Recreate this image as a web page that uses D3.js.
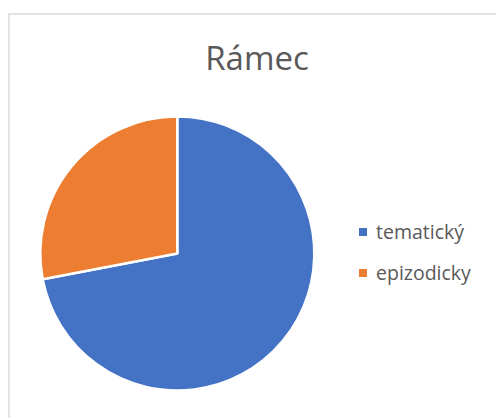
<!DOCTYPE html>
<html><head><meta charset="utf-8">
<script src="https://cdn.jsdelivr.net/npm/d3@7"></script>
<style>html,body{margin:0;padding:0;background:#fff;}</style>
</head><body>
<script>
const categories = ["tematický", "epizodicky"];
const values = [72, 28];
const colors = ["#4472C4", "#ED7D31"];
const title = "Rámec";

const W = 496, H = 418;
const svg = d3.select("body").append("svg").attr("width", W).attr("height", H);
svg.append("rect").attr("width", W).attr("height", H).attr("fill", "#fff");
svg.append("rect").attr("x", 9).attr("y", 14).attr("width", 600).attr("height", 500)
  .attr("fill", "none").attr("stroke", "#d9d9d9").attr("stroke-width", 1.5);

svg.append("text").attr("x", 257).attr("y", 70).attr("text-anchor", "middle")
  .attr("font-family", "'Open Sans', Lato, sans-serif").attr("font-size", 33)
  .attr("fill", "#595959").text(title);

const data = categories.map((c, i) => ({ c, v: values[i], col: colors[i] }));
const pie = d3.pie().value(d => d.v).sort(null);
const arc = d3.arc().innerRadius(0).outerRadius(137);
const g = svg.append("g").attr("transform", "translate(177.3,253.5)");
g.selectAll("path").data(pie(data)).join("path")
  .attr("d", arc).attr("fill", d => d.data.col)
  .attr("stroke", "#fff").attr("stroke-width", 2.5).attr("stroke-linejoin", "round");

const leg = svg.append("g");
const ly = d3.scalePoint().domain(categories).range([232, 273]);
data.forEach(d => {
  leg.append("rect").attr("x", 359).attr("y", ly(d.c) - 4).attr("width", 8).attr("height", 8).attr("fill", d.col);
  leg.append("text").attr("x", 376).attr("y", ly(d.c) + 7)
    .attr("font-family", "'Open Sans', Lato, sans-serif").attr("font-size", 19.5)
    .attr("fill", "#595959").text(d.c);
});
</script>
</body></html>
